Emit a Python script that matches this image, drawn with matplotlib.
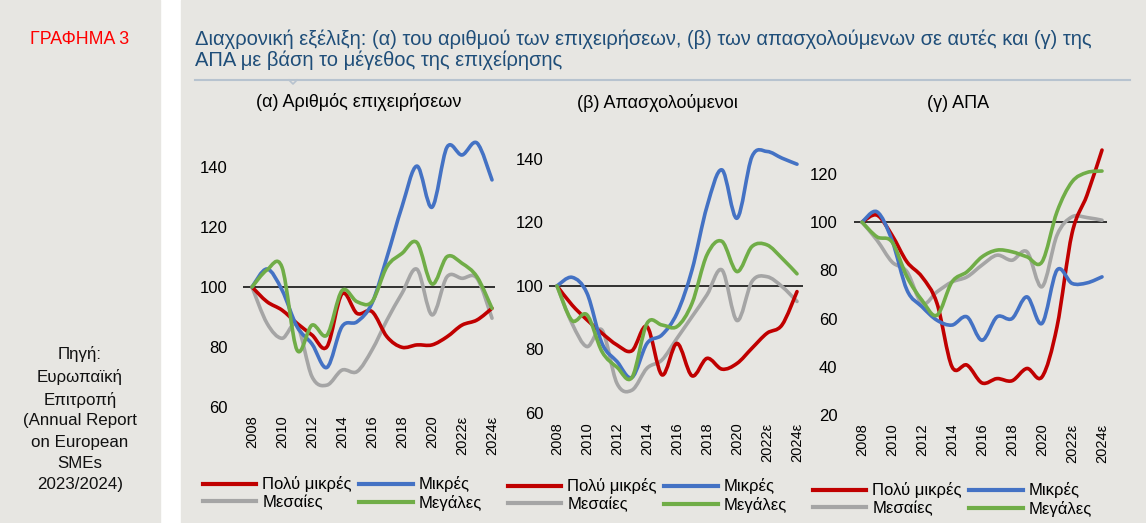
import matplotlib
matplotlib.use('Agg')
import matplotlib.pyplot as plt
from matplotlib.path import Path
from matplotlib.patches import PathPatch, Rectangle
from matplotlib.lines import Line2D
import numpy as np

plt.rcParams['font.family'] = ['Liberation Sans', 'DejaVu Sans']

# --- δεδομένα (δείκτης, 2008 = 100) ---
years = list(range(2008, 2025))
tick_years = [2008, 2010, 2012, 2014, 2016, 2018, 2020, 2022, 2024]
tick_labels = ['2008', '2010', '2012', '2014', '2016', '2018', '2020', '2022ε', '2024ε']

series_names = ['Πολύ μικρές', 'Μικρές', 'Μεσαίες', 'Μεγάλες']
colors = ['#C00000', '#4472C4', '#A5A5A5', '#70AD47']

# (α) αριθμός επιχειρήσεων
firms_micro = [100, 95.1, 92.3, 87.9, 84.0, 80.1, 97.7, 91.2, 91.8, 83.4, 79.9, 80.7, 80.7, 83.4, 87.3, 89.0, 92.9]
firms_small = [100, 106.0, 99.0, 86.8, 81.0, 73.2, 86.8, 88.4, 94.6, 110.0, 126.8, 140.3, 126.6, 146.6, 144.0, 148.0, 135.7]
firms_medium = [100, 87.9, 82.9, 87.3, 70.1, 67.3, 72.3, 71.8, 79.0, 89.0, 97.9, 105.9, 90.7, 103.4, 102.9, 102.9, 89.6]
firms_large = [100, 105.7, 106.6, 79.0, 87.3, 84.0, 98.8, 95.1, 95.1, 106.8, 111.2, 114.8, 101.0, 110.1, 107.9, 103.4, 92.9]

# (β) απασχολούμενοι
empl_micro = [100, 94.0, 89.3, 85.1, 81.4, 79.6, 87.2, 72.0, 81.9, 71.7, 77.2, 73.8, 75.6, 80.4, 85.1, 87.7, 98.2]
empl_small = [100, 102.7, 97.7, 81.9, 76.2, 71.2, 81.9, 84.6, 91.4, 105.0, 125.0, 136.5, 121.3, 140.7, 142.3, 140.2, 138.3]
empl_medium = [100, 88.2, 80.9, 86.1, 69.3, 67.2, 74.1, 76.7, 83.5, 90.3, 97.2, 105.0, 89.1, 101.4, 102.9, 99.8, 95.1]
empl_large = [100, 89.1, 90.9, 79.3, 74.4, 71.2, 88.2, 87.7, 87.2, 94.5, 109.8, 114.0, 104.5, 112.4, 112.9, 108.7, 103.8]

# (γ) ΑΠΑ
gva_micro = [100, 102.9, 94.6, 83.5, 77.3, 66.3, 40.0, 40.7, 33.3, 35.1, 34.2, 39.3, 35.8, 56.6, 95.3, 111.2, 129.9]
gva_small = [100, 104.3, 92.5, 71.8, 64.9, 59.3, 57.3, 60.7, 51.0, 60.7, 60.0, 69.0, 58.0, 80.1, 74.6, 74.8, 77.3]
gva_medium = [100, 92.5, 83.5, 79.4, 66.3, 71.1, 75.2, 77.3, 82.2, 86.3, 84.2, 87.7, 73.2, 94.6, 102.2, 101.9, 100.8]
gva_large = [100, 93.9, 91.8, 77.3, 67.6, 61.4, 75.2, 79.4, 85.6, 88.4, 87.7, 85.6, 83.5, 104.3, 116.7, 120.6, 121.2]

W, H = 1146, 523
BG = '#E7E6E2'


def fx(px):
    return px / W


def fy(py):
    return 1 - py / H


def smooth_path(x, y):
    # ομαλή καμπύλη τύπου Excel (Bezier) μέσα από τα σημεία
    pts = np.column_stack([x, y]).astype(float)
    n = len(pts)
    verts = [pts[0]]
    codes = [Path.MOVETO]
    for i in range(n - 1):
        p0 = pts[max(i - 1, 0)]
        p1 = pts[i]
        p2 = pts[i + 1]
        p3 = pts[min(i + 2, n - 1)]
        verts += [p1 + (p2 - p0) / 6, p2 - (p3 - p1) / 6, p2]
        codes += [Path.CURVE4] * 3
    return Path(verts, codes)


fig = plt.figure(figsize=(W / 100, H / 100), dpi=100, facecolor='white')

# φόντα
fig.patches.append(Rectangle((0, 0), fx(160), 1, transform=fig.transFigure, color=BG, zorder=-10))
fig.patches.append(Rectangle((fx(181), 0), 1 - fx(181), 1, transform=fig.transFigure, color=BG, zorder=-10))

fig.text(fx(80), fy(40), 'ΓΡΑΦΗΜΑ 3', color='#FF0000', fontsize=12.8, ha='center', va='center')
fig.text(fx(80), fy(419), 'Πηγή:\nΕυρωπαϊκή\nΕπιτροπή\n(Annual Report\non European\nSMEs\n2023/2024)',
         fontsize=12.2, ha='center', va='center', linespacing=1.5, color='#111111')

title_color = '#1F4E79'
fig.text(fx(195), fy(45), 'Διαχρονική εξέλιξη: (α) του αριθμού των επιχειρήσεων, (β) των απασχολούμενων σε αυτές και (γ) της',
         fontsize=14.5, color=title_color, ha='left', va='baseline')
fig.text(fx(195), fy(66), 'ΑΠΑ με βάση το μέγεθος της επιχείρησης',
         fontsize=14.5, color=title_color, ha='left', va='baseline')
fig.add_artist(Line2D([fx(195), fx(1130)], [fy(80), fy(80)], color='#B7C3CF', lw=1.5))
fig.add_artist(Line2D([fx(289), fx(293), fx(297)], [fy(80), fy(84), fy(80)], color='#B7C3CF', lw=1.2))

panels = [
    dict(title='(α) Αριθμός επιχειρήσεων', tx=359, ty=102,
         box=(243, 495, 137, 407), xlim=(2007.4, 2024.2), ylim=(60, 150), yticks=[60, 80, 100, 120, 140],
         ypad=11, xpad=6, data=[firms_micro, firms_small, firms_medium, firms_large], leg=(203, 476.5)),
    dict(title='(β) Απασχολούμενοι', tx=657, ty=103,
         box=(549, 803, 127, 413), xlim=(2007.467, 2024.4), ylim=(60, 150), yticks=[60, 80, 100, 120, 140],
         ypad=4, xpad=7, data=[empl_micro, empl_small, empl_medium, empl_large], leg=(508, 478.5)),
    dict(title='(γ) ΑΠΑ', tx=958, ty=103,
         box=(854, 1107, 145, 415), xlim=(2007.467, 2024.333), ylim=(20, 132), yticks=[20, 40, 60, 80, 100, 120],
         ypad=12, xpad=6, data=[gva_micro, gva_small, gva_medium, gva_large], leg=(813, 482.5)),
]

for p in panels:
    l, r, t, b = p['box']
    ax = fig.add_axes([fx(l), fy(b), (r - l) / W, (b - t) / H])
    ax.set_facecolor('none')
    for s in ax.spines.values():
        s.set_visible(False)
    ax.set_xlim(*p['xlim'])
    ax.set_ylim(*p['ylim'])
    ax.set_yticks(p['yticks'])
    ax.set_xticks(tick_years)
    ax.set_xticklabels(tick_labels, rotation=90, fontsize=10.5)
    ax.tick_params(axis='y', length=0, labelsize=12, pad=p['ypad'])
    ax.tick_params(axis='x', length=0, pad=p['xpad'])
    ax.axhline(100, color='black', lw=1.1, zorder=1)

    # σειρά σχεδίασης: μεσαίες, πολύ μικρές, μικρές, μεγάλες
    for k in [2, 0, 1, 3]:
        path = smooth_path(years, p['data'][k])
        ax.add_patch(PathPatch(path, fill=False, edgecolor=colors[k], lw=2.6,
                               capstyle='round', joinstyle='round', zorder=2))

    fig.text(fx(p['tx']), fy(p['ty']), p['title'], fontsize=13, ha='center', va='center')

    order = [0, 2, 1, 3]
    handles = [Line2D([], [], color=colors[k], lw=3) for k in order]
    labels = [series_names[k] for k in order]
    fig.legend(handles, labels, ncol=2, loc='upper left',
               bbox_to_anchor=(fx(p['leg'][0]), fy(p['leg'][1])), bbox_transform=fig.transFigure,
               frameon=False, fontsize=12, handlelength=3.2, handletextpad=0.35,
               columnspacing=0.45, borderpad=0, borderaxespad=0, labelspacing=0.13)

fig.savefig('out.png', dpi=100, facecolor=fig.get_facecolor())
